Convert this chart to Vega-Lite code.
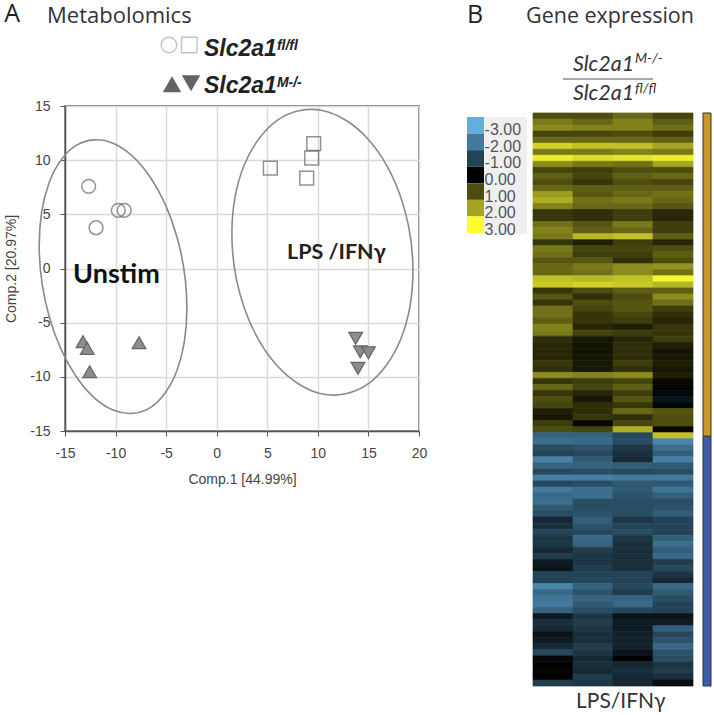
{"$schema":"https://vega.github.io/schema/vega-lite/v6.json","background":"white","padding":{"left":3,"top":1,"right":0,"bottom":0},"bounds":"flush","spacing":114,"config":{"view":{"stroke":null},"font":"Liberation Sans"},"hconcat":[
{"width":354,"height":325,"view":{"stroke":"#555","strokeWidth":1.5},"resolve":{"scale":{"shape":"independent"}},"layer":[
{"data":{"name":"ellipses","values":[
{"g":"Unstim","i":0,"x":-2.95,"y":-3.63},{"g":"Unstim","i":1,"x":-3.93,"y":2.91},{"g":"Unstim","i":2,"x":-6.6,"y":8.47},{"g":"Unstim","i":3,"x":-10.25,"y":11.57},{"g":"Unstim","i":4,"x":-13.9,"y":11.36},{"g":"Unstim","i":5,"x":-16.57,"y":7.92},{"g":"Unstim","i":6,"x":-17.55,"y":2.13},{"g":"Unstim","i":7,"x":-16.57,"y":-4.41},{"g":"Unstim","i":8,"x":-13.9,"y":-9.97},{"g":"Unstim","i":9,"x":-10.25,"y":-13.07},{"g":"Unstim","i":10,"x":-6.6,"y":-12.86},{"g":"Unstim","i":11,"x":-3.93,"y":-9.42},
{"g":"LPS","i":0,"x":19.4,"y":-0.2},{"g":"LPS","i":1,"x":18.2,"y":6.57},{"g":"LPS","i":2,"x":14.93,"y":11.98},{"g":"LPS","i":3,"x":10.45,"y":14.59},{"g":"LPS","i":4,"x":5.98,"y":13.68},{"g":"LPS","i":5,"x":2.7,"y":9.51},{"g":"LPS","i":6,"x":1.5,"y":3.2},{"g":"LPS","i":7,"x":2.7,"y":-3.57},{"g":"LPS","i":8,"x":5.98,"y":-8.98},{"g":"LPS","i":9,"x":10.45,"y":-11.59},{"g":"LPS","i":10,"x":14.93,"y":-10.68},{"g":"LPS","i":11,"x":18.2,"y":-6.51}]},
"mark":{"type":"line","interpolate":"cardinal-closed","color":"#8a8a8a","strokeWidth":1.6},
"encoding":{"x":{"field":"x","type":"quantitative","scale":{"domain":[-15,20],"nice":false,"zero":false},"axis":{"values":[-15,-10,-5,0,5,10,15,20],"labelExpr":"''+datum.value","title":"Comp.1 [44.99%]","titleFontSize":14,"titleFontWeight":"normal","titleColor":"#444","titlePadding":12,"labelFontSize":14,"labelColor":"#444","labelPadding":10,"tickColor":"#555","tickSize":5,"domainColor":"#555","domainWidth":1.5,"gridColor":"#dadada","gridWidth":1.5,"grid":true,"labelFlush":false}},
"y":{"field":"y","type":"quantitative","scale":{"domain":[-15,15],"nice":false,"zero":false},"axis":{"values":[-15,-10,-5,0,5,10,15],"labelExpr":"''+datum.value","title":"Comp.2 [20.97%]","titleFontSize":14,"titleFontWeight":"normal","titleColor":"#444","titlePadding":11,"labelFontSize":14,"labelColor":"#444","labelPadding":10,"tickColor":"#555","tickSize":5,"domainColor":"#555","domainWidth":1.5,"gridColor":"#dadada","gridWidth":1.5,"grid":true,"labelFlush":false}},"detail":{"field":"g"},"order":{"field":"i"}}},
{"data":{"values":[{"g":"Unstim fl/fl","x":-12.66,"y":7.58},{"g":"Unstim fl/fl","x":-9.73,"y":5.37},{"g":"Unstim fl/fl","x":-9.14,"y":5.37},{"g":"Unstim fl/fl","x":-11.93,"y":3.76},{"g":"LPS fl/fl","x":9.59,"y":11.52},{"g":"LPS fl/fl","x":9.39,"y":10.2},{"g":"LPS fl/fl","x":5.3,"y":9.27},{"g":"LPS fl/fl","x":8.9,"y":8.35}]},
"mark":{"type":"point","filled":false,"size":190,"stroke":"#666","strokeWidth":1.5},
"encoding":{"x":{"field":"x","type":"quantitative","scale":{"domain":[-15,20],"nice":false,"zero":false}},"y":{"field":"y","type":"quantitative","scale":{"domain":[-15,15],"nice":false,"zero":false}},"shape":{"field":"g","type":"nominal","scale":{"domain":["Unstim fl/fl","LPS fl/fl"],"range":["circle","square"]},"legend":null}}},
{"data":{"values":[{"g":"Unstim M-/-","x":-13.22,"y":-6.75},{"g":"Unstim M-/-","x":-12.8,"y":-7.37},{"g":"Unstim M-/-","x":-12.56,"y":-9.53},{"g":"Unstim M-/-","x":-7.68,"y":-6.85},{"g":"LPS M-/-","x":13.74,"y":-6.45},{"g":"LPS M-/-","x":14.2,"y":-7.7},{"g":"LPS M-/-","x":15,"y":-7.78},{"g":"LPS M-/-","x":13.97,"y":-9.22}]},
"mark":{"type":"point","filled":true,"opacity":1,"size":190,"fill":"#8c8c8c","stroke":"#666","strokeWidth":1.2},
"encoding":{"x":{"field":"x","type":"quantitative","scale":{"domain":[-15,20],"nice":false,"zero":false}},"y":{"field":"y","type":"quantitative","scale":{"domain":[-15,15],"nice":false,"zero":false}},"shape":{"field":"g","type":"nominal","scale":{"domain":["Unstim M-/-","LPS M-/-"],"range":["triangle-up","triangle-down"]},"legend":null}}},
{"data":{"values":[{"g":"fl/fl circle","x":-4.72,"y":20.63},{"g":"fl/fl square","x":-2.71,"y":20.63}]},
"mark":{"type":"point","filled":false,"size":240,"stroke":"#aaa","strokeWidth":1.4},
"encoding":{"x":{"field":"x","type":"quantitative","scale":{"domain":[-15,20],"nice":false,"zero":false}},"y":{"field":"y","type":"quantitative","scale":{"domain":[-15,15],"nice":false,"zero":false}},"shape":{"field":"g","type":"nominal","scale":{"domain":["fl/fl circle","fl/fl square"],"range":["circle","square"]},"legend":null}}},
{"data":{"values":[{"g":"M up","x":-4.42,"y":17.0},{"g":"M down","x":-2.54,"y":17.1}]},
"mark":{"type":"point","filled":true,"opacity":1,"size":340,"fill":"#636363"},
"encoding":{"x":{"field":"x","type":"quantitative","scale":{"domain":[-15,20],"nice":false,"zero":false}},"y":{"field":"y","type":"quantitative","scale":{"domain":[-15,15],"nice":false,"zero":false}},"shape":{"field":"g","type":"nominal","scale":{"domain":["M up","M down"],"range":["triangle-up","triangle-down"]},"legend":null}}},
{"data":{"values":[{"label":"A","x":-21.0,"y":22.76}]},"mark":{"type":"text","align":"left","baseline":"alphabetic","font":"Open Sans","fontSize":25,"color":"#222"},"encoding":{"text":{"field":"label"},"x":{"field":"x","type":"quantitative","scale":{"domain":[-15,20],"nice":false,"zero":false}},"y":{"field":"y","type":"quantitative","scale":{"domain":[-15,15],"nice":false,"zero":false}}}},
{"data":{"values":[{"label":"Metabolomics","x":-16.78,"y":22.66}]},"mark":{"type":"text","align":"left","baseline":"alphabetic","font":"Open Sans","fontSize":22,"color":"#333"},"encoding":{"text":{"field":"label"},"x":{"field":"x","type":"quantitative","scale":{"domain":[-15,20],"nice":false,"zero":false}},"y":{"field":"y","type":"quantitative","scale":{"domain":[-15,15],"nice":false,"zero":false}}}},
{"data":{"values":[{"label":"Slc2a1","x":-1.26,"y":19.6},{"label":"Slc2a1","x":-1.26,"y":16.2}]},"mark":{"type":"text","align":"left","baseline":"alphabetic","font":"Liberation Sans","fontStyle":"italic","fontWeight":"bold","fontSize":23,"color":"#222"},"encoding":{"text":{"field":"label"},"x":{"field":"x","type":"quantitative","scale":{"domain":[-15,20],"nice":false,"zero":false}},"y":{"field":"y","type":"quantitative","scale":{"domain":[-15,15],"nice":false,"zero":false}}}},
{"data":{"values":[{"label":"fl/fl","x":5.95,"y":20.2},{"label":"M-/-","x":5.95,"y":16.8}]},"mark":{"type":"text","align":"left","baseline":"alphabetic","font":"Liberation Sans","fontStyle":"italic","fontWeight":"bold","fontSize":14,"color":"#222"},"encoding":{"text":{"field":"label"},"x":{"field":"x","type":"quantitative","scale":{"domain":[-15,20],"nice":false,"zero":false}},"y":{"field":"y","type":"quantitative","scale":{"domain":[-15,15],"nice":false,"zero":false}}}},
{"data":{"values":[{"label":"Unstim","x":-14.2,"y":-1.34}]},"mark":{"type":"text","align":"left","baseline":"alphabetic","font":"Lato","fontWeight":"bold","fontSize":27,"color":"#111"},"encoding":{"text":{"field":"label"},"x":{"field":"x","type":"quantitative","scale":{"domain":[-15,20],"nice":false,"zero":false}},"y":{"field":"y","type":"quantitative","scale":{"domain":[-15,15],"nice":false,"zero":false}}}},
{"data":{"values":[{"label":"LPS /IFNγ","x":6.95,"y":0.87}]},"mark":{"type":"text","align":"left","baseline":"alphabetic","font":"Lato","fontWeight":"bold","fontSize":21.5,"color":"#222"},"encoding":{"text":{"field":"label"},"x":{"field":"x","type":"quantitative","scale":{"domain":[-15,20],"nice":false,"zero":false}},"y":{"field":"y","type":"quantitative","scale":{"domain":[-15,15],"nice":false,"zero":false}}}}
]},
{"width":160,"height":580,"view":{"stroke":null},"resolve":{"scale":{"x":"independent","y":"independent","color":"independent","stroke":"independent"}},"layer":[
{"data":{"values":[
{"r":1,"c":1,"v":1.0},{"r":1,"c":2,"v":1.0},{"r":1,"c":3,"v":1.3},{"r":1,"c":4,"v":0.9},
{"r":2,"c":1,"v":1.5},{"r":2,"c":2,"v":1.3},{"r":2,"c":3,"v":1.6},{"r":2,"c":4,"v":1.2},
{"r":3,"c":1,"v":1.7},{"r":3,"c":2,"v":1.6},{"r":3,"c":3,"v":1.6},{"r":3,"c":4,"v":1.4},
{"r":4,"c":1,"v":0.9},{"r":4,"c":2,"v":0.9},{"r":4,"c":3,"v":1.0},{"r":4,"c":4,"v":0.8},
{"r":5,"c":1,"v":1.3},{"r":5,"c":2,"v":1.3},{"r":5,"c":3,"v":1.3},{"r":5,"c":4,"v":1.2},
{"r":6,"c":1,"v":2.5},{"r":6,"c":2,"v":2.3},{"r":6,"c":3,"v":2.3},{"r":6,"c":4,"v":2.0},
{"r":7,"c":1,"v":1.5},{"r":7,"c":2,"v":1.5},{"r":7,"c":3,"v":1.6},{"r":7,"c":4,"v":1.5},
{"r":8,"c":1,"v":2.8},{"r":8,"c":2,"v":2.6},{"r":8,"c":3,"v":2.7},{"r":8,"c":4,"v":2.8},
{"r":9,"c":1,"v":1.7},{"r":9,"c":2,"v":1.5},{"r":9,"c":3,"v":1.4},{"r":9,"c":4,"v":2.0},
{"r":10,"c":1,"v":0.9},{"r":10,"c":2,"v":0.8},{"r":10,"c":3,"v":1.0},{"r":10,"c":4,"v":1.0},
{"r":11,"c":1,"v":1.2},{"r":11,"c":2,"v":0.9},{"r":11,"c":3,"v":1.2},{"r":11,"c":4,"v":1.3},
{"r":12,"c":1,"v":1.0},{"r":12,"c":2,"v":0.7},{"r":12,"c":3,"v":1.0},{"r":12,"c":4,"v":0.9},
{"r":13,"c":1,"v":1.3},{"r":13,"c":2,"v":1.2},{"r":13,"c":3,"v":1.2},{"r":13,"c":4,"v":1.2},
{"r":14,"c":1,"v":1.9},{"r":14,"c":2,"v":1.1},{"r":14,"c":3,"v":1.3},{"r":14,"c":4,"v":1.4},
{"r":15,"c":1,"v":2.1},{"r":15,"c":2,"v":1.4},{"r":15,"c":3,"v":1.5},{"r":15,"c":4,"v":1.3},
{"r":16,"c":1,"v":1.6},{"r":16,"c":2,"v":1.3},{"r":16,"c":3,"v":1.3},{"r":16,"c":4,"v":1.1},
{"r":17,"c":1,"v":0.7},{"r":17,"c":2,"v":0.6},{"r":17,"c":3,"v":0.8},{"r":17,"c":4,"v":0.5},
{"r":18,"c":1,"v":0.7},{"r":18,"c":2,"v":0.6},{"r":18,"c":3,"v":0.8},{"r":18,"c":4,"v":0.5},
{"r":19,"c":1,"v":1.4},{"r":19,"c":2,"v":1.1},{"r":19,"c":3,"v":1.5},{"r":19,"c":4,"v":0.8},
{"r":20,"c":1,"v":1.6},{"r":20,"c":2,"v":1.2},{"r":20,"c":3,"v":1.3},{"r":20,"c":4,"v":0.8},
{"r":21,"c":1,"v":1.5},{"r":21,"c":2,"v":2.2},{"r":21,"c":3,"v":2.3},{"r":21,"c":4,"v":1.2},
{"r":22,"c":1,"v":0.7},{"r":22,"c":2,"v":0.4},{"r":22,"c":3,"v":0.8},{"r":22,"c":4,"v":0.5},
{"r":23,"c":1,"v":1.5},{"r":23,"c":2,"v":0.9},{"r":23,"c":3,"v":0.9},{"r":23,"c":4,"v":1.0},
{"r":24,"c":1,"v":1.4},{"r":24,"c":2,"v":0.8},{"r":24,"c":3,"v":0.8},{"r":24,"c":4,"v":1.2},
{"r":25,"c":1,"v":1.1},{"r":25,"c":2,"v":1.1},{"r":25,"c":3,"v":0.6},{"r":25,"c":4,"v":1.0},
{"r":26,"c":1,"v":1.3},{"r":26,"c":2,"v":1.5},{"r":26,"c":3,"v":1.7},{"r":26,"c":4,"v":1.8},
{"r":27,"c":1,"v":1.3},{"r":27,"c":2,"v":1.4},{"r":27,"c":3,"v":1.7},{"r":27,"c":4,"v":1.4},
{"r":28,"c":1,"v":2.3},{"r":28,"c":2,"v":2.2},{"r":28,"c":3,"v":2.3},{"r":28,"c":4,"v":2.9},
{"r":29,"c":1,"v":2.4},{"r":29,"c":2,"v":2.5},{"r":29,"c":3,"v":2.4},{"r":29,"c":4,"v":2.2},
{"r":30,"c":1,"v":0.7},{"r":30,"c":2,"v":1.0},{"r":30,"c":3,"v":1.2},{"r":30,"c":4,"v":1.2},
{"r":31,"c":1,"v":1.1},{"r":31,"c":2,"v":0.6},{"r":31,"c":3,"v":1.0},{"r":31,"c":4,"v":1.7},
{"r":32,"c":1,"v":0.7},{"r":32,"c":2,"v":1.0},{"r":32,"c":3,"v":1.1},{"r":32,"c":4,"v":1.4},
{"r":33,"c":1,"v":1.4},{"r":33,"c":2,"v":0.9},{"r":33,"c":3,"v":1.1},{"r":33,"c":4,"v":0.8},
{"r":34,"c":1,"v":1.4},{"r":34,"c":2,"v":0.7},{"r":34,"c":3,"v":0.9},{"r":34,"c":4,"v":0.6},
{"r":35,"c":1,"v":1.2},{"r":35,"c":2,"v":0.7},{"r":35,"c":3,"v":0.8},{"r":35,"c":4,"v":0.5},
{"r":36,"c":1,"v":1.6},{"r":36,"c":2,"v":0.5},{"r":36,"c":3,"v":0.4},{"r":36,"c":4,"v":0.7},
{"r":37,"c":1,"v":1.5},{"r":37,"c":2,"v":0.9},{"r":37,"c":3,"v":0.8},{"r":37,"c":4,"v":0.7},
{"r":38,"c":1,"v":0.6},{"r":38,"c":2,"v":0.3},{"r":38,"c":3,"v":0.5},{"r":38,"c":4,"v":0.8},
{"r":39,"c":1,"v":0.5},{"r":39,"c":2,"v":0.25},{"r":39,"c":3,"v":0.6},{"r":39,"c":4,"v":0.4},
{"r":40,"c":1,"v":0.5},{"r":40,"c":2,"v":0.25},{"r":40,"c":3,"v":0.6},{"r":40,"c":4,"v":0.25},
{"r":41,"c":1,"v":0.5},{"r":41,"c":2,"v":0.3},{"r":41,"c":3,"v":0.6},{"r":41,"c":4,"v":0.3},
{"r":42,"c":1,"v":0.7},{"r":42,"c":2,"v":0.3},{"r":42,"c":3,"v":0.8},{"r":42,"c":4,"v":0.4},
{"r":43,"c":1,"v":0.6},{"r":43,"c":2,"v":0.3},{"r":43,"c":3,"v":0.6},{"r":43,"c":4,"v":0.3},
{"r":44,"c":1,"v":1.7},{"r":44,"c":2,"v":1.6},{"r":44,"c":3,"v":1.7},{"r":44,"c":4,"v":0.4},
{"r":45,"c":1,"v":0.7},{"r":45,"c":2,"v":0.8},{"r":45,"c":3,"v":0.9},{"r":45,"c":4,"v":0.1},
{"r":46,"c":1,"v":1.3},{"r":46,"c":2,"v":0.9},{"r":46,"c":3,"v":1.2},{"r":46,"c":4,"v":0.05},
{"r":47,"c":1,"v":0.7},{"r":47,"c":2,"v":0.5},{"r":47,"c":3,"v":0.8},{"r":47,"c":4,"v":-0.1},
{"r":48,"c":1,"v":1.0},{"r":48,"c":2,"v":0.3},{"r":48,"c":3,"v":1.1},{"r":48,"c":4,"v":-0.3},
{"r":49,"c":1,"v":0.9},{"r":49,"c":2,"v":0.6},{"r":49,"c":3,"v":0.7},{"r":49,"c":4,"v":-0.1},
{"r":50,"c":1,"v":0.4},{"r":50,"c":2,"v":0.6},{"r":50,"c":3,"v":1.3},{"r":50,"c":4,"v":1.1},
{"r":51,"c":1,"v":0.3},{"r":51,"c":2,"v":0.7},{"r":51,"c":3,"v":0.6},{"r":51,"c":4,"v":1.0},
{"r":52,"c":1,"v":0.8},{"r":52,"c":2,"v":0.1},{"r":52,"c":3,"v":0.9},{"r":52,"c":4,"v":1.0},
{"r":53,"c":1,"v":1.0},{"r":53,"c":2,"v":0.9},{"r":53,"c":3,"v":2.1},{"r":53,"c":4,"v":0.1},
{"r":54,"c":1,"v":-1.6},{"r":54,"c":2,"v":-1.6},{"r":54,"c":3,"v":-1.1},{"r":54,"c":4,"v":2.3},
{"r":55,"c":1,"v":-1.8},{"r":55,"c":2,"v":-1.7},{"r":55,"c":3,"v":-1.2},{"r":55,"c":4,"v":-2.2},
{"r":56,"c":1,"v":-1.2},{"r":56,"c":2,"v":-1.3},{"r":56,"c":3,"v":-0.8},{"r":56,"c":4,"v":-1.8},
{"r":57,"c":1,"v":-1.0},{"r":57,"c":2,"v":-1.1},{"r":57,"c":3,"v":-0.7},{"r":57,"c":4,"v":-1.5},
{"r":58,"c":1,"v":-2.1},{"r":58,"c":2,"v":-1.4},{"r":58,"c":3,"v":-0.6},{"r":58,"c":4,"v":-2.1},
{"r":59,"c":1,"v":-1.6},{"r":59,"c":2,"v":-1.6},{"r":59,"c":3,"v":-1.5},{"r":59,"c":4,"v":-1.4},
{"r":60,"c":1,"v":-1.1},{"r":60,"c":2,"v":-1.2},{"r":60,"c":3,"v":-1.1},{"r":60,"c":4,"v":-1.2},
{"r":61,"c":1,"v":-2.1},{"r":61,"c":2,"v":-2.1},{"r":61,"c":3,"v":-2.0},{"r":61,"c":4,"v":-2.0},
{"r":62,"c":1,"v":-1.1},{"r":62,"c":2,"v":-1.2},{"r":62,"c":3,"v":-1.4},{"r":62,"c":4,"v":-1.4},
{"r":63,"c":1,"v":-2.0},{"r":63,"c":2,"v":-1.8},{"r":63,"c":3,"v":-1.4},{"r":63,"c":4,"v":-1.9},
{"r":64,"c":1,"v":-1.7},{"r":64,"c":2,"v":-1.8},{"r":64,"c":3,"v":-1.3},{"r":64,"c":4,"v":-1.5},
{"r":65,"c":1,"v":-1.8},{"r":65,"c":2,"v":-1.2},{"r":65,"c":3,"v":-1.2},{"r":65,"c":4,"v":-1.2},
{"r":66,"c":1,"v":-1.4},{"r":66,"c":2,"v":-1.2},{"r":66,"c":3,"v":-1.2},{"r":66,"c":4,"v":-1.3},
{"r":67,"c":1,"v":-1.2},{"r":67,"c":2,"v":-1.3},{"r":67,"c":3,"v":-1.2},{"r":67,"c":4,"v":-1.5},
{"r":68,"c":1,"v":-0.6},{"r":68,"c":2,"v":-1.5},{"r":68,"c":3,"v":-0.8},{"r":68,"c":4,"v":-1.0},
{"r":69,"c":1,"v":-0.7},{"r":69,"c":2,"v":-1.3},{"r":69,"c":3,"v":-1.0},{"r":69,"c":4,"v":-1.0},
{"r":70,"c":1,"v":-1.0},{"r":70,"c":2,"v":-1.1},{"r":70,"c":3,"v":-1.2},{"r":70,"c":4,"v":-1.0},
{"r":71,"c":1,"v":-0.8},{"r":71,"c":2,"v":-1.7},{"r":71,"c":3,"v":-0.8},{"r":71,"c":4,"v":-1.5},
{"r":72,"c":1,"v":-0.8},{"r":72,"c":2,"v":-1.6},{"r":72,"c":3,"v":-0.7},{"r":72,"c":4,"v":-1.8},
{"r":73,"c":1,"v":-0.6},{"r":73,"c":2,"v":-0.9},{"r":73,"c":3,"v":-0.7},{"r":73,"c":4,"v":-1.5},
{"r":74,"c":1,"v":-0.9},{"r":74,"c":2,"v":-0.8},{"r":74,"c":3,"v":-0.7},{"r":74,"c":4,"v":-1.7},
{"r":75,"c":1,"v":-0.4},{"r":75,"c":2,"v":-0.8},{"r":75,"c":3,"v":-0.7},{"r":75,"c":4,"v":-0.9},
{"r":76,"c":1,"v":-0.3},{"r":76,"c":2,"v":-0.9},{"r":76,"c":3,"v":-0.7},{"r":76,"c":4,"v":-1.1},
{"r":77,"c":1,"v":-1.0},{"r":77,"c":2,"v":-1.0},{"r":77,"c":3,"v":-1.0},{"r":77,"c":4,"v":-0.8},
{"r":78,"c":1,"v":-1.0},{"r":78,"c":2,"v":-1.1},{"r":78,"c":3,"v":-1.0},{"r":78,"c":4,"v":-0.6},
{"r":79,"c":1,"v":-2.2},{"r":79,"c":2,"v":-1.6},{"r":79,"c":3,"v":-1.1},{"r":79,"c":4,"v":-1.7},
{"r":80,"c":1,"v":-1.7},{"r":80,"c":2,"v":-1.3},{"r":80,"c":3,"v":-0.9},{"r":80,"c":4,"v":-1.4},
{"r":81,"c":1,"v":-1.9},{"r":81,"c":2,"v":-1.6},{"r":81,"c":3,"v":-1.6},{"r":81,"c":4,"v":-1.2},
{"r":82,"c":1,"v":-2.0},{"r":82,"c":2,"v":-1.4},{"r":82,"c":3,"v":-1.7},{"r":82,"c":4,"v":-1.0},
{"r":83,"c":1,"v":-1.6},{"r":83,"c":2,"v":-1.2},{"r":83,"c":3,"v":-1.1},{"r":83,"c":4,"v":-1.0},
{"r":84,"c":1,"v":-0.4},{"r":84,"c":2,"v":-0.8},{"r":84,"c":3,"v":-0.3},{"r":84,"c":4,"v":-0.3},
{"r":85,"c":1,"v":-0.7},{"r":85,"c":2,"v":-0.9},{"r":85,"c":3,"v":-0.4},{"r":85,"c":4,"v":-0.4},
{"r":86,"c":1,"v":-0.6},{"r":86,"c":2,"v":-0.8},{"r":86,"c":3,"v":-0.4},{"r":86,"c":4,"v":-1.5},
{"r":87,"c":1,"v":-0.3},{"r":87,"c":2,"v":-0.7},{"r":87,"c":3,"v":-0.5},{"r":87,"c":4,"v":-1.1},
{"r":88,"c":1,"v":-0.4},{"r":88,"c":2,"v":-0.7},{"r":88,"c":3,"v":-0.5},{"r":88,"c":4,"v":-1.3},
{"r":89,"c":1,"v":-0.6},{"r":89,"c":2,"v":-0.9},{"r":89,"c":3,"v":-0.5},{"r":89,"c":4,"v":-1.7},
{"r":90,"c":1,"v":-1.1},{"r":90,"c":2,"v":-0.8},{"r":90,"c":3,"v":-0.3},{"r":90,"c":4,"v":-1.3},
{"r":91,"c":1,"v":-0.1},{"r":91,"c":2,"v":-0.6},{"r":91,"c":3,"v":0},{"r":91,"c":4,"v":-1.2},
{"r":92,"c":1,"v":0},{"r":92,"c":2,"v":-0.7},{"r":92,"c":3,"v":-0.6},{"r":92,"c":4,"v":-0.8},
{"r":93,"c":1,"v":0.05},{"r":93,"c":2,"v":-0.6},{"r":93,"c":3,"v":-0.7},{"r":93,"c":4,"v":-0.9},
{"r":94,"c":1,"v":0},{"r":94,"c":2,"v":-0.9},{"r":94,"c":3,"v":-0.6},{"r":94,"c":4,"v":-0.7},
{"r":95,"c":1,"v":-0.9},{"r":95,"c":2,"v":-0.8},{"r":95,"c":3,"v":-0.6},{"r":95,"c":4,"v":-0.2}
]},"mark":{"type":"rect","strokeWidth":0.7},"encoding":{"x":{"field":"c","type":"ordinal","axis":null,"scale":{"range":[0,160],"paddingInner":0,"paddingOuter":0}},"y":{"field":"r","type":"ordinal","axis":null,"scale":{"range":[7,580],"paddingInner":0,"paddingOuter":0}},"color":{"field":"v","type":"quantitative","legend":null,"scale":{"type":"linear","interpolate":"rgb","domain":[-3,-2,-1,0,1,2,3],"range":["#66b4e4","#43799c","#234356","#000000","#4d4d10","#a5a524","#ffff2e"]}},"stroke":{"field":"v","type":"quantitative","legend":null,"scale":{"type":"linear","interpolate":"rgb","domain":[-3,-2,-1,0,1,2,3],"range":["#66b4e4","#43799c","#234356","#000000","#4d4d10","#a5a524","#ffff2e"]}}}},
{"data":{"values":[{"group":"Up","a":4.25,"b":4.45,"from":0,"to":53.6},{"group":"Down","a":4.25,"b":4.45,"from":53.6,"to":95}]},"mark":{"type":"rect","stroke":"#333","strokeWidth":1},"encoding":{"x":{"field":"a","type":"quantitative","axis":null,"scale":{"domain":[0,4],"nice":false,"zero":false}},"x2":{"field":"b"},"y":{"field":"from","type":"quantitative","axis":null,"scale":{"domain":[-1.16,95],"nice":false,"zero":false,"reverse":true}},"y2":{"field":"to"},"color":{"field":"group","type":"nominal","legend":null,"scale":{"domain":["Up","Down"],"range":["#c8982a","#3f5ca8"]}}}},
{"data":{"values":[{"a":-1.225,"b":-0.15,"from":0.66,"to":20.1}]},"mark":{"type":"rect","color":"#efefef"},"encoding":{"x":{"field":"a","type":"quantitative","axis":null,"scale":{"domain":[0,4],"nice":false,"zero":false}},"x2":{"field":"b"},"y":{"field":"from","type":"quantitative","axis":null,"scale":{"domain":[-1.16,95],"nice":false,"zero":false,"reverse":true}},"y2":{"field":"to"}}},
{"data":{"values":[{"label":"-3.00","a":-1.65,"b":-1.225},{"label":"-2.00","a":-1.65,"b":-1.225},{"label":"-1.00","a":-1.65,"b":-1.225},{"label":"0.00","a":-1.65,"b":-1.225},{"label":"1.00","a":-1.65,"b":-1.225},{"label":"2.00","a":-1.65,"b":-1.225},{"label":"3.00","a":-1.65,"b":-1.225}]},"mark":{"type":"rect"},"encoding":{"x":{"field":"a","type":"quantitative","axis":null,"scale":{"domain":[0,4],"nice":false,"zero":false}},"x2":{"field":"b"},"y":{"field":"label","type":"ordinal","axis":null,"sort":null,"scale":{"domain":["-3.00","-2.00","-1.00","0.00","1.00","2.00","3.00"],"range":[11,127],"paddingInner":0,"paddingOuter":0}},"color":{"field":"label","type":"ordinal","legend":null,"scale":{"domain":["-3.00","-2.00","-1.00","0.00","1.00","2.00","3.00"],"range":["#5fb0e0","#43799c","#234356","#000000","#4d4d10","#a5a524","#ffff2e"]}}}},
{"data":{"values":[{"label":"-3.00","a":-1.21},{"label":"-2.00","a":-1.21},{"label":"-1.00","a":-1.21},{"label":"0.00","a":-1.21},{"label":"1.00","a":-1.21},{"label":"2.00","a":-1.21},{"label":"3.00","a":-1.21}]},"mark":{"type":"text","align":"left","baseline":"middle","dy":5,"font":"Liberation Sans","fontSize":16,"color":"#555"},"encoding":{"text":{"field":"label"},"x":{"field":"a","type":"quantitative","axis":null,"scale":{"domain":[0,4],"nice":false,"zero":false}},"y":{"field":"label","type":"ordinal","axis":null,"sort":null,"scale":{"domain":["-3.00","-2.00","-1.00","0.00","1.00","2.00","3.00"],"range":[11,127],"paddingInner":0,"paddingOuter":0}}}},
{"data":{"values":[{"a":0.75,"b":3.0,"at":-5.64}]},"mark":{"type":"rule","color":"#555","strokeWidth":1.2},"encoding":{"x":{"field":"a","type":"quantitative","axis":null,"scale":{"domain":[0,4],"nice":false,"zero":false}},"x2":{"field":"b"},"y":{"field":"at","type":"quantitative","axis":null,"scale":{"domain":[-1.16,95],"nice":false,"zero":false,"reverse":true}}}},
{"data":{"values":[{"label":"B","a":-1.65,"at":-14.9}]},"mark":{"type":"text","align":"left","baseline":"alphabetic","font":"Open Sans","fontSize":25,"color":"#222"},"encoding":{"text":{"field":"label"},"x":{"field":"a","type":"quantitative","axis":null,"scale":{"domain":[0,4],"nice":false,"zero":false}},"y":{"field":"at","type":"quantitative","axis":null,"scale":{"domain":[-1.16,95],"nice":false,"zero":false,"reverse":true}}}},
{"data":{"values":[{"label":"Gene expression","a":-0.175,"at":-14.9}]},"mark":{"type":"text","align":"left","baseline":"alphabetic","font":"Open Sans","fontSize":21.5,"color":"#333"},"encoding":{"text":{"field":"label"},"x":{"field":"a","type":"quantitative","axis":null,"scale":{"domain":[0,4],"nice":false,"zero":false}},"y":{"field":"at","type":"quantitative","axis":null,"scale":{"domain":[-1.16,95],"nice":false,"zero":false,"reverse":true}}}},
{"data":{"values":[{"label":"Slc2a1","a":1.0,"at":-6.97},{"label":"Slc2a1","a":1.0,"at":-2.16}]},"mark":{"type":"text","align":"left","baseline":"alphabetic","font":"Lato","fontStyle":"italic","fontSize":21.5,"color":"#333"},"encoding":{"text":{"field":"label"},"x":{"field":"a","type":"quantitative","axis":null,"scale":{"domain":[0,4],"nice":false,"zero":false}},"y":{"field":"at","type":"quantitative","axis":null,"scale":{"domain":[-1.16,95],"nice":false,"zero":false,"reverse":true}}}},
{"data":{"values":[{"label":"M-/-","a":2.55,"at":-8.3},{"label":"fl/fl","a":2.55,"at":-3.3}]},"mark":{"type":"text","align":"left","baseline":"alphabetic","font":"Lato","fontStyle":"italic","fontSize":14,"color":"#333"},"encoding":{"text":{"field":"label"},"x":{"field":"a","type":"quantitative","axis":null,"scale":{"domain":[0,4],"nice":false,"zero":false}},"y":{"field":"at","type":"quantitative","axis":null,"scale":{"domain":[-1.16,95],"nice":false,"zero":false,"reverse":true}}}},
{"data":{"values":[{"label":"LPS/IFNγ","a":1.075,"at":98.7}]},"mark":{"type":"text","align":"left","baseline":"alphabetic","font":"Lato","fontSize":21,"color":"#333"},"encoding":{"text":{"field":"label"},"x":{"field":"a","type":"quantitative","axis":null,"scale":{"domain":[0,4],"nice":false,"zero":false}},"y":{"field":"at","type":"quantitative","axis":null,"scale":{"domain":[-1.16,95],"nice":false,"zero":false,"reverse":true}}}}
]}
]}
